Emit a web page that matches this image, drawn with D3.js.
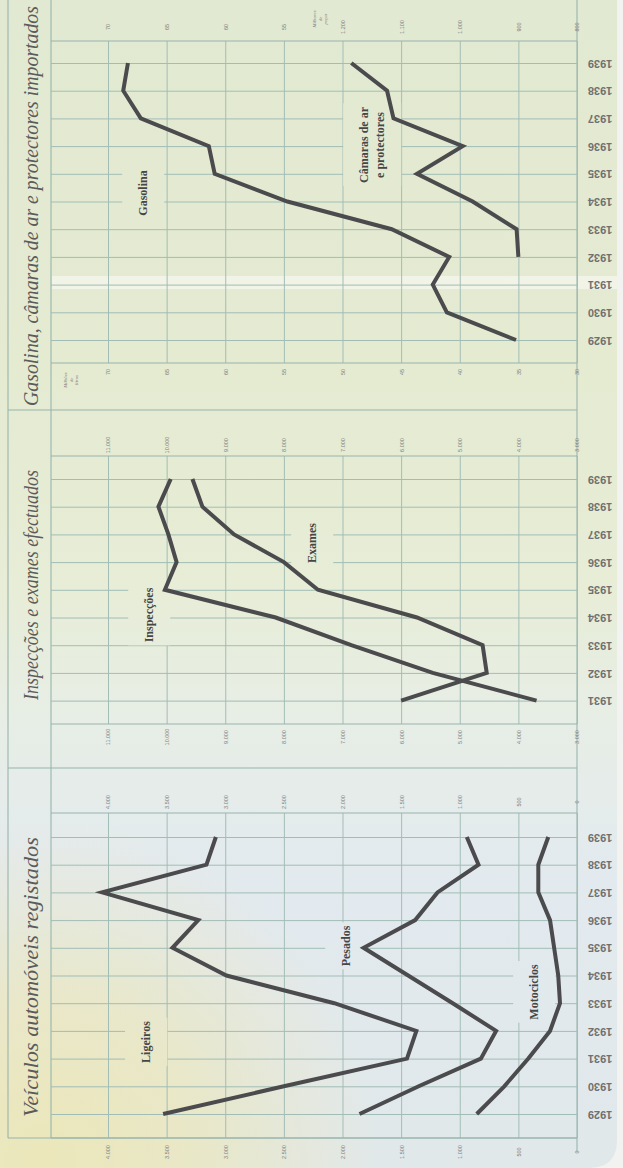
<!DOCTYPE html>
<html lang="pt">
<head>
<meta charset="utf-8">
<title>Veículos, inspecções e importações 1929-1939</title>
<script src="https://cdn.jsdelivr.net/npm/d3@7"></script>
<style>
  html, body { margin: 0; padding: 0; background: #f2f3f1; }
  svg { display: block; }
  .grid line { stroke: #a2bdb6; stroke-width: 1; }
  .frame { stroke: #98b4ad; stroke-width: 1.1; fill: none; }
  .series { fill: none; stroke: #4b4b4e; stroke-width: 4; stroke-linejoin: miter; stroke-linecap: butt; }
  .title { font-family: 'Liberation Serif', serif; font-style: italic; font-size: 20px; fill: #5b5b5b; }
  .series-label { font-family: 'Liberation Serif', serif; font-weight: bold; font-size: 12px; fill: #464646; }
  .year text { font-family: 'Liberation Sans', sans-serif; font-weight: bold; font-size: 11px; fill: #707070; }
  .tick-label text { font-family: 'Liberation Sans', sans-serif; font-size: 5.5px; fill: #7d7d7d; }
  .unit { font-family: 'Liberation Serif', serif; font-style: italic; font-size: 4.8px; fill: #7d7d7d; }
</style>
</head>
<body>
<div id="chart"></div>
<script>
// values (page is rotated, years run upwards)
const years = [1929, 1930, 1931, 1932, 1933, 1934, 1935, 1936, 1937, 1938, 1939];
const ligeiros = [3530, 2500, 1450, 1370, 2070, 2990, 3450, 3230, 4050, 3160, 3080];
const pesados = [1855, 1350, 820, 690, 1060, 1440, 1820, 1380, 1190, 840, 940];
const motociclos = [855, 620, 415, 230, 145, 160, 195, 230, 330, 330, 245];

const yearsExames = [1931, 1932, 1933, 1934, 1935, 1936, 1937, 1938, 1939];
const inspeccoes = [3690, 5460, 6850, 8140, 10030, 9830, 9970, 10140, 9930];
const exames = [6000, 4540, 4610, 5730, 7420, 8000, 8850, 9390, 9560];

const gasolina = [35.2, 41.1, 42.3, 40.9, 45.8, 54.7, 60.9, 61.4, 67.2, 68.7, 68.3];
const yearsCamaras = [1932, 1933, 1934, 1935, 1936, 1937, 1938, 1939];
const camaras = [900, 903, 978, 1073, 995, 1113, 1124, 1185];

const ticksVeiculos = [4000, 3500, 3000, 2500, 2000, 1500, 1000, 500, 0];
const ticksExames = [11000, 10000, 9000, 8000, 7000, 6000, 5000, 4000, 3000];
const ticksGasolina = [70, 65, 60, 55, 50, 45, 40, 35, 30];
const ticksGasolinaTop = [70, 65, 60, 55];
const ticksCamaras = [1200, 1100, 1000, 900, 800];

const W = 623, H = 1168;
const frameLeft = 8, plotLeft = 51, valueLeft = 108, valueRight = 577, paperRight = 617;
const yearStep = 27.7;

const pt = d3.formatLocale({ decimal: ',', thousands: '.', grouping: [3], currency: ['', ''] }).format(',d');

const svg = d3.select('#chart').append('svg')
  .attr('width', W)
  .attr('height', H);

const defs = svg.append('defs');
const paper = defs.append('linearGradient')
  .attr('id', 'paper')
  .attr('gradientUnits', 'userSpaceOnUse')
  .attr('x1', 0).attr('y1', 0).attr('x2', 0).attr('y2', H);
[[0, '#e2e9d2'], [0.3, '#e5ebd1'], [0.5, '#e7edd6'], [0.62, '#e7eee6'], [0.75, '#e3eaef'], [1, '#e1e8ea']]
  .forEach(s => paper.append('stop').attr('offset', s[0]).attr('stop-color', s[1]));

const yellow = defs.append('radialGradient')
  .attr('id', 'yellow')
  .attr('gradientUnits', 'userSpaceOnUse')
  .attr('cx', 40).attr('cy', 1160).attr('r', 340);
[[0, 0.95], [0.45, 0.7], [1, 0]]
  .forEach(s => yellow.append('stop').attr('offset', s[0]).attr('stop-color', '#ece7b8').attr('stop-opacity', s[1]));

// paper, with a rounded bottom-right corner
const paperPath = `M0,0H${paperRight}V${H - 28}Q${paperRight},${H} ${paperRight - 28},${H}H0Z`;
svg.append('path').attr('d', paperPath).attr('fill', 'url(#paper)');
svg.append('path').attr('d', paperPath).attr('fill', 'url(#yellow)');
// light fold across the top panel
svg.append('rect')
  .attr('x', plotLeft + 1).attr('y', 276)
  .attr('width', paperRight - plotLeft - 1).attr('height', 13)
  .attr('fill', '#ffffff').attr('opacity', 0.45);

// outer frame
const frame = svg.append('g');
frame.append('line').attr('class', 'frame').attr('x1', frameLeft).attr('x2', frameLeft).attr('y1', 0).attr('y2', 1138);
frame.append('line').attr('class', 'frame').attr('x1', plotLeft).attr('x2', plotLeft).attr('y1', 0).attr('y2', 1138);
frame.append('line').attr('class', 'frame').attr('x1', valueRight).attr('x2', valueRight).attr('y1', 0).attr('y2', 1152);
[410, 768, 1138].forEach(y => frame.append('line').attr('class', 'frame')
  .attr('x1', frameLeft).attr('x2', valueRight).attr('y1', y).attr('y2', y));

class RotatedChart {

  constructor(_config) {
    this.config = {
      top: _config.top,
      bottom: _config.bottom,
      y1939: _config.y1939,
      years: _config.years,
      title: _config.title,
      titleY: _config.titleY,
      titleLength: _config.titleLength,
      domains: _config.domains,
      tickRows: _config.tickRows,
      series: _config.series,
      labels: _config.labels,
      units: _config.units || []
    };
    this.initVis();
  }

  initVis() {
    const vis = this;
    const c = vis.config;

    vis.x = {};
    Object.keys(c.domains).forEach(k => {
      vis.x[k] = d3.scaleLinear().domain(c.domains[k]).range([valueLeft, valueRight]);
    });
    vis.y = d3.scaleLinear().domain([1939, 1929]).range([c.y1939, c.y1939 + 10 * yearStep]);

    vis.g = svg.append('g');
    vis.renderVis();
  }

  renderVis() {
    const vis = this;
    const c = vis.config;
    const first = Object.keys(c.domains)[0];

    // vertical value grid
    vis.g.append('g')
      .attr('class', 'grid')
      .attr('transform', `translate(0,${c.top})`)
      .call(d3.axisTop(vis.x[first]).tickValues(c.tickRows[0].values).tickSize(-(c.bottom - c.top)).tickFormat(''))
      .call(g => g.select('.domain').remove());

    // year grid + labels, turned upside down like the print
    vis.g.append('g')
      .attr('class', 'grid year')
      .attr('transform', `translate(${valueRight},0)`)
      .call(d3.axisRight(vis.y).tickValues(c.years).tickSize(-(valueRight - plotLeft)).tickFormat(d3.format('d')))
      .call(g => g.select('.domain').remove())
      .call(g => g.selectAll('text')
        .attr('x', 23).attr('dy', '0.35em')
        .attr('text-anchor', 'middle')
        .attr('transform', 'rotate(180,23,0)'));

    // top and bottom borders of the plot
    [c.top, c.bottom].forEach(y => vis.g.append('line').attr('class', 'frame')
      .attr('x1', plotLeft).attr('x2', valueRight).attr('y1', y).attr('y2', y));

    // value labels
    c.tickRows.forEach(row => {
      const axis = row.y < c.top ? d3.axisTop(vis.x[row.scale]) : d3.axisBottom(vis.x[row.scale]);
      vis.g.append('g')
        .attr('class', 'tick-label')
        .attr('transform', `translate(0,${row.y})`)
        .call(axis.tickValues(row.values).tickSize(0).tickFormat(pt))
        .call(g => g.select('.domain').remove())
        .call(g => g.selectAll('text')
          .attr('y', null).attr('dy', '0.35em')
          .attr('text-anchor', 'middle')
          .attr('transform', 'rotate(-90)'));
    });

    c.units.forEach(u => {
      const t = vis.g.append('text').attr('class', 'unit')
        .attr('transform', `translate(${u.x},${u.y}) rotate(-90)`)
        .attr('text-anchor', 'middle');
      u.lines.forEach((line, i) => t.append('tspan')
        .attr('x', 0).attr('y', (i - (u.lines.length - 1) / 2) * 5.6).attr('dy', '0.35em').text(line));
    });

    // knock-out patches behind the series labels, then the labels
    const knock = vis.g.append('g');
    const lines = vis.g.append('g');
    const texts = vis.g.append('g');

    c.series.forEach(s => {
      const line = d3.line()
        .x(d => vis.x[s.scale](d[1]))
        .y(d => vis.y(d[0]));
      lines.append('path')
        .datum(d3.zip(s.years, s.values))
        .attr('class', 'series')
        .attr('d', line);
    });

    c.labels.forEach(l => {
      const t = texts.append('text').attr('class', 'series-label')
        .attr('transform', `translate(${l.x},${l.y}) rotate(-90)`)
        .attr('text-anchor', 'middle');
      l.lines.forEach((line, i) => t.append('tspan')
        .attr('x', 0).attr('y', (i - (l.lines.length - 1) / 2) * 16).attr('dy', '0.35em').text(line));
      const b = t.node().getBBox();
      // local (u,v) -> screen (x + v, y - u)
      const rx = l.x + b.y - 14, ry = l.y - b.x - b.width - 3;
      const rw = b.height + 28, rh = b.width + 6;
      ['url(#paper)', 'url(#yellow)'].forEach(f => knock.append('rect')
        .attr('x', rx).attr('y', ry).attr('width', rw).attr('height', rh).attr('fill', f));
    });

    vis.g.append('text')
      .attr('class', 'title')
      .attr('transform', `translate(38,${c.titleY}) rotate(-90)`)
      .attr('text-anchor', 'middle')
      .attr('textLength', c.titleLength)
      .attr('lengthAdjust', 'spacingAndGlyphs')
      .text(c.title);
  }
}

new RotatedChart({
  top: 41, bottom: 363, y1939: 63,
  years: years,
  title: 'Gasolina, câmaras de ar e protectores importados',
  titleY: 206, titleLength: 400,
  domains: { gas: [70, 30], cam: [1600, 800] },
  tickRows: [
    { scale: 'gas', values: ticksGasolina, y: 372 },
    { scale: 'gas', values: ticksGasolinaTop, y: 27 },
    { scale: 'cam', values: ticksCamaras, y: 27 }
  ],
  series: [
    { scale: 'gas', years: years, values: gasolina },
    { scale: 'cam', years: yearsCamaras, values: camaras }
  ],
  labels: [
    { lines: ['Gasolina'], x: 143, y: 193 },
    { lines: ['Câmaras de ar', 'e protectores'], x: 372, y: 145 }
  ],
  units: [
    { lines: ['Milhões', 'de', 'litros'], x: 71, y: 380 },
    { lines: ['Milhares', 'de', 'peças'], x: 320, y: 19 }
  ]
});

new RotatedChart({
  top: 456, bottom: 724, y1939: 479,
  years: yearsExames,
  title: 'Inspecções e exames efectuados',
  titleY: 585, titleLength: 230,
  domains: { n: [11000, 3000] },
  tickRows: [
    { scale: 'n', values: ticksExames, y: 445 },
    { scale: 'n', values: ticksExames, y: 737 }
  ],
  series: [
    { scale: 'n', years: yearsExames, values: inspeccoes },
    { scale: 'n', years: yearsExames, values: exames }
  ],
  labels: [
    { lines: ['Inspecções'], x: 149, y: 615 },
    { lines: ['Exames'], x: 312, y: 543 }
  ]
});

new RotatedChart({
  top: 813, bottom: 1138, y1939: 837,
  years: years,
  title: 'Veículos automóveis registados',
  titleY: 977, titleLength: 280,
  domains: { n: [4000, 0] },
  tickRows: [
    { scale: 'n', values: ticksVeiculos, y: 802 },
    { scale: 'n', values: ticksVeiculos, y: 1152 }
  ],
  series: [
    { scale: 'n', years: years, values: ligeiros },
    { scale: 'n', years: years, values: pesados },
    { scale: 'n', years: years, values: motociclos }
  ],
  labels: [
    { lines: ['Ligeiros'], x: 146, y: 1042 },
    { lines: ['Pesados'], x: 346, y: 946 },
    { lines: ['Motociclos'], x: 534, y: 992 }
  ]
});
</script>
</body>
</html>
